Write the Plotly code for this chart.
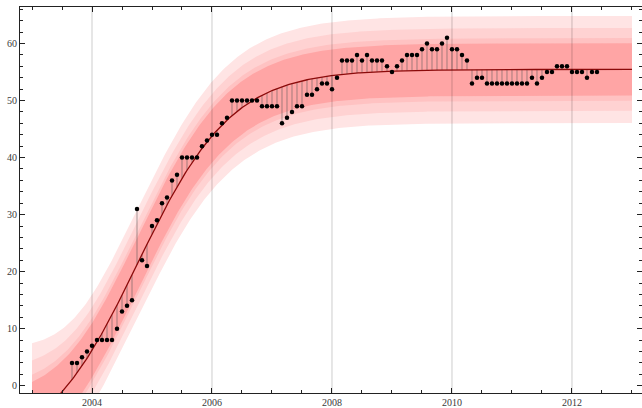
import numpy as np
import plotly.graph_objects as go

# ---------------- data (monthly, starting Sep 2003) ----------------
start_year = 2003
start_month = 9
values = [4, 4, 5, 6, 7, 8, 8, 8, 8, 10, 13, 14, 15, 31, 22, 21, 28, 29, 32, 33,
          36, 37, 40, 40, 40, 40, 42, 43, 44, 44, 46, 47, 50, 50, 50, 50, 50, 50,
          49, 49, 49, 49, 46, 47, 48, 49, 49, 51, 51, 52, 53, 53, 52, 54, 57, 57,
          57, 58, 57, 58, 57, 57, 57, 56, 55, 56, 57, 58, 58, 58, 59, 60, 59, 59,
          60, 61, 59, 59, 58, 57, 53, 54, 54, 53, 53, 53, 53, 53, 53, 53, 53, 53,
          54, 53, 54, 55, 55, 56, 56, 56, 55, 55, 55, 54, 55, 55]
x_ticks = [2004, 2006, 2008, 2010, 2012]
y_ticks = [0, 10, 20, 30, 40, 50, 60]
band_levels = [0.999, 0.99, 0.95, 0.9]
# Student t quantiles for dof = n - 4 = 102
t_quant = {0.9: 1.6599, 0.95: 1.9835, 0.99: 2.6254, 0.999: 3.3896}
fit_range = (2003.0, 2013.0)

# ---------------- logistic fit (a + b/(1+exp(-k(t-t0)))) ----------------
y = np.array(values, dtype=float)
n = len(y)
t = start_year + (start_month - 1) / 12 + np.arange(n) / 12.0
T0 = 2000.0


def model(p, tt):
    a, b, k, c = p
    return a + b / (1 + np.exp(-k * (tt - T0 - c)))


def jac(p, tt):
    a, b, k, c = p
    s = 1 / (1 + np.exp(-k * (tt - T0 - c)))
    ds = s * (1 - s)
    return np.column_stack([np.ones_like(tt), s, b * ds * (tt - T0 - c), -b * ds * k])


p = np.array([-7.6, 63.2, 1.46, 4.9])
lam = 1e-3
for _ in range(500):
    r = y - model(p, t)
    J = jac(p, t)
    A = J.T @ J
    g = J.T @ r
    step = np.linalg.solve(A + lam * np.diag(np.diag(A)), g)
    pn = p + step
    if np.sum((y - model(pn, t)) ** 2) < np.sum(r ** 2):
        p = pn
        lam *= 0.3
    else:
        lam *= 5
    if np.max(np.abs(step)) < 1e-12:
        break

res = y - model(p, t)
s2 = np.sum(res ** 2) / (n - 4)
J = jac(p, t)
cov = s2 * np.linalg.inv(J.T @ J)

tc = np.linspace(fit_range[0], fit_range[1], 400)
yc = model(p, tc)
Jc = jac(p, tc)
se_fit2 = np.einsum('ij,jk,ik->i', Jc, cov, Jc)
se_pred = np.sqrt(s2 + se_fit2)

fig = go.Figure()

band_colors = ['#FFE4E4', '#FFD2D2', '#FFC2C2', '#FFA5A5']
for lev, col in zip(band_levels, band_colors):
    hw = t_quant[lev] * se_pred
    xs = np.concatenate([tc, tc[::-1]])
    ys = np.concatenate([yc + hw, (yc - hw)[::-1]])
    fig.add_trace(go.Scatter(x=xs, y=ys, fill='toself', fillcolor=col,
                             line=dict(width=0), mode='lines', hoverinfo='skip',
                             showlegend=False))

# stems from points to fitted curve
yf = model(p, t)
sx, sy = [], []
for ti, yi, fi in zip(t, y, yf):
    sx += [ti, ti, None]
    sy += [yi, fi, None]
fig.add_trace(go.Scatter(x=sx, y=sy, mode='lines',
                         line=dict(color='rgba(90,90,90,0.55)', width=1),
                         showlegend=False, hoverinfo='skip'))

fig.add_trace(go.Scatter(x=tc, y=yc, mode='lines',
                         line=dict(color='#8B0A0A', width=1.3), showlegend=False))

fig.add_trace(go.Scatter(x=t, y=y, mode='markers',
                         marker=dict(color='black', size=4.5), showlegend=False))

for xv in x_ticks:
    fig.add_shape(type='line', x0=xv, x1=xv, y0=0, y1=1, xref='x', yref='paper',
                  line=dict(color='rgba(0,0,0,0.2)', width=1), layer='above')

axis_font = dict(family='Liberation Serif, Times New Roman, serif', size=10, color='#3a3a3a')
fig.update_layout(
    width=642, height=408,
    margin=dict(l=20, r=0, t=7, b=15),
    paper_bgcolor='white', plot_bgcolor='white',
    xaxis=dict(range=[2002.8, 2013.167], tickvals=x_ticks, tickformat='d',
               showgrid=False, zeroline=False, showline=True, linecolor='#222',
               linewidth=1, mirror='allticks', ticks='inside', ticklen=5,
               tickcolor='#222', tickfont=axis_font,
               minor=dict(dtick=0.5, tick0=2003, ticks='inside', ticklen=3,
                          tickcolor='#222', showgrid=False)),
    yaxis=dict(range=[-1.28, 66.4], tickvals=y_ticks, showgrid=False,
               zeroline=False, showline=True, linecolor='#222', linewidth=1,
               mirror='allticks', ticks='inside', ticklen=5, tickcolor='#222',
               tickfont=axis_font,
               minor=dict(dtick=2, tick0=0, ticks='inside', ticklen=3,
                          tickcolor='#222', showgrid=False)),
)

fig.write_html('out.html', config={'displayModeBar': False},
               post_script="document.body.style.margin='0';document.body.style.padding='0';")
